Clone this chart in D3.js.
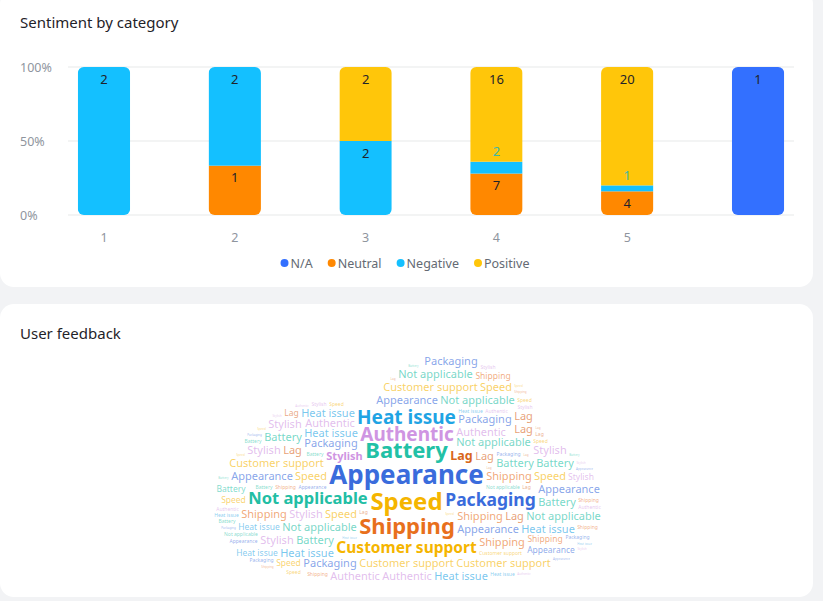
<!DOCTYPE html>
<html>
<head>
<meta charset="utf-8">
<script src="https://cdn.jsdelivr.net/npm/d3@7"></script>
<style>
  html, body { margin: 0; padding: 0; background: #f2f3f5; }
  svg { display: block; font-family: "Noto Sans", sans-serif; }
</style>
</head>
<body>
<svg id="page" width="823" height="601"></svg>
<script>
// ---- bar chart data ----
const categories = ["1", "2", "3", "4", "5", ""];
const sentiments = ["N/A", "Neutral", "Negative", "Positive"];
const naCounts = [0, 0, 0, 0, 0, 1];
const neutralCounts = [0, 1, 0, 7, 4, 0];
const negativeCounts = [2, 2, 2, 2, 1, 0];
const positiveCounts = [0, 0, 2, 16, 20, 0];
const sentimentColors = ["#3370ff", "#ff8800", "#14c0ff", "#ffc60a"];
const yTicks = [0, 0.5, 1];

// ---- word cloud data (lead words in placement order) ----
const cloudWords = ["Appearance", "Battery", "Speed", "Authentic", "Shipping", "Heat issue",
  "Packaging", "Customer support", "Not applicable", "Lag", "Stylish"];
const cloudColors = ["#3a6cdc", "#22c1a6", "#f5b500", "#cf95e2", "#e8701c", "#1fa4e4",
  "#3a6cdc", "#f5b500", "#22bea4", "#d8661a", "#cf95e2"];
const leadSizes = [26, 22, 24, 19, 22, 19, 17.5, 15.5, 16.5, 12.5, 11];
const mediumWords = ["Packaging", "Not applicable", "Speed", "Shipping", "Lag", "Appearance",
  "Heat issue", "Authentic", "Not applicable", "Customer support", "Appearance", "Customer support",
  "Shipping", "Authentic", "Speed", "Packaging", "Not applicable", "Customer support", "Heat issue",
  "Battery", "Stylish", "Battery", "Lag", "Not applicable", "Lag", "Shipping", "Appearance",
  "Customer support", "Authentic", "Battery", "Packaging", "Stylish", "Speed", "Heat issue", "Speed",
  "Authentic", "Heat issue", "Not applicable", "Lag", "Shipping", "Customer support", "Packaging",
  "Stylish", "Battery", "Heat issue", "Appearance", "Stylish", "Battery", "Stylish", "Lag"];
const smallWords = ["Heat issue", "Shipping", "Shipping", "Appearance", "Speed", "Heat issue",
  "Customer support", "Stylish", "Packaging", "Authentic", "Appearance", "Battery", "Lag", "Speed"];
const tinyWords = ["Not applicable", "Appearance", "Battery", "Packaging", "Speed", "Shipping",
  "Heat issue", "Customer support", "Lag", "Stylish", "Authentic", "Not applicable", "Battery",
  "Shipping", "Heat issue", "Appearance", "Customer support", "Packaging", "Stylish", "Speed",
  "Authentic", "Lag", "Battery", "Not applicable", "Shipping", "Heat issue", "Packaging",
  "Customer support", "Appearance", "Speed", "Stylish", "Authentic", "Lag", "Battery",
  "Not applicable", "Packaging", "Heat issue", "Shipping", "Customer support", "Speed"];
const dashWords = ["Speed", "Battery", "Lag", "Stylish", "Appearance", "Shipping", "Packaging",
  "Heat issue", "Authentic", "Customer support", "Not applicable", "Speed", "Lag", "Battery",
  "Stylish", "Shipping", "Appearance", "Packaging", "Authentic", "Heat issue", "Speed", "Lag",
  "Customer support", "Battery", "Stylish", "Shipping", "Not applicable", "Appearance", "Packaging",
  "Authentic", "Heat issue", "Speed", "Lag", "Battery", "Stylish", "Shipping"];

const FONT = '"Noto Sans", sans-serif';
const svg = d3.select("#page");

// ---- cards ----
svg.append("rect").attr("x", 0).attr("y", -10).attr("width", 813).attr("height", 297)
  .attr("rx", 14).attr("fill", "#fff");
svg.append("rect").attr("x", 0).attr("y", 304).attr("width", 813).attr("height", 293)
  .attr("rx", 14).attr("fill", "#fff");

svg.append("text").attr("x", 20).attr("y", 27.5).attr("font-size", 15).attr("fill", "#1f2329")
  .text("Sentiment by category");
svg.append("text").attr("x", 20).attr("y", 338.5).attr("font-size", 15).attr("fill", "#1f2329")
  .text("User feedback");

// ---- bar chart ----
const rows = categories.map((c, i) => ({
  cat: c,
  "N/A": naCounts[i], "Neutral": neutralCounts[i],
  "Negative": negativeCounts[i], "Positive": positiveCounts[i]
}));

const x = d3.scaleBand().domain(categories).range([68, 794]).paddingInner(0.6).paddingOuter(0.075);
const y = d3.scaleLinear().domain([0, 1]).range([215, 67]);
const color = d3.scaleOrdinal().domain(sentiments).range(sentimentColors);

const stacked = d3.stack().keys(sentiments).offset(d3.stackOffsetExpand)(rows);

const chart = svg.append("g");

chart.append("g").selectAll("line").data(yTicks).join("line")
  .attr("x1", 68).attr("x2", 794)
  .attr("y1", d => y(d)).attr("y2", d => y(d))
  .attr("stroke", "#eff0f1").attr("stroke-width", 1.5);

chart.append("g").selectAll("text").data(yTicks).join("text")
  .attr("x", 20).attr("y", d => y(d) + 4.5)
  .attr("font-size", 12.5).attr("fill", "#8f959e")
  .text(d => d3.format(".0%")(d));

const xAxis = chart.append("g").attr("transform", "translate(0,229)")
  .call(d3.axisBottom(x).tickSize(0).tickPadding(0));
xAxis.select(".domain").remove();
xAxis.selectAll("text").attr("font-size", 12.5).attr("fill", "#8f959e")
  .attr("font-family", FONT).attr("dy", "1.05em");

const defs = svg.append("defs");
categories.forEach((c, i) => {
  defs.append("clipPath").attr("id", "bar-clip-" + i)
    .append("rect").attr("x", x(c)).attr("y", y(1))
    .attr("width", x.bandwidth()).attr("height", y(0) - y(1)).attr("rx", 6);
});

const bars = chart.append("g");
stacked.forEach(layer => {
  bars.append("g").attr("fill", color(layer.key))
    .selectAll("rect").data(layer).join("rect")
    .attr("clip-path", (d, i) => `url(#bar-clip-${i})`)
    .attr("x", d => x(d.data.cat))
    .attr("y", d => y(d[1]))
    .attr("width", x.bandwidth())
    .attr("height", d => y(d[0]) - y(d[1]));
});

const labels = chart.append("g").attr("text-anchor", "middle").attr("font-size", 13);
stacked.forEach(layer => {
  layer.forEach(d => {
    const v = d.data[layer.key];
    if (!v) return;
    const top = y(d[1]);
    const h = y(d[0]) - y(d[1]);
    const inside = h >= 20;
    labels.append("text")
      .attr("x", x(d.data.cat) + x.bandwidth() / 2)
      .attr("y", inside ? top + 16.5 : top - 5.5)
      .attr("fill", inside ? "#1f2329" : "#3fb8a4")
      .text(v);
  });
});

// legend
const mctx = document.createElement("canvas").getContext("2d");
mctx.font = `12.5px ${FONT}`;
const legendItems = sentiments.map(s => ({ s, w: 10 + mctx.measureText(s).width }));
const legendGap = 15;
const legendW = d3.sum(legendItems, d => d.w) + legendGap * (legendItems.length - 1);
let lx = 405 - legendW / 2;
const legend = svg.append("g");
legendItems.forEach(it => {
  legend.append("circle").attr("cx", lx + 4).attr("cy", 263).attr("r", 4).attr("fill", color(it.s));
  legend.append("text").attr("x", lx + 10).attr("y", 267.5).attr("font-size", 12.5)
    .attr("fill", "#646a73").text(it.s);
  lx += it.w + legendGap;
});

// ---- word cloud ----
const colorOf = w => cloudColors[cloudWords.indexOf(w)];
const items = [];
cloudWords.forEach((w, i) => items.push({ text: w, size: leadSizes[i], weight: "bold", op: 1 }));
mediumWords.forEach(w => items.push({ text: w, size: 11, weight: "normal", op: 0.62 }));
smallWords.forEach(w => items.push({ text: w, size: 8.5, weight: "normal", op: 0.58 }));
tinyWords.forEach(w => items.push({ text: w, size: 5, weight: "normal", op: 0.55 }));
dashWords.forEach(w => items.push({ text: w, size: 3, weight: "normal", op: 0.5 }));

// cloud outline: wide squarish base plus a top lobe and a smaller left lobe
function insideCloud(px, py) {
  const bx = (px - 408) / 195, by = (py - 505) / 78;
  if (Math.abs(bx) ** 3 + Math.abs(by) ** 3 <= 1) return true;
  const tx = (px - 453) / 92, ty = (py - 437) / 85;
  if (tx * tx + ty * ty <= 1) return true;
  const lx2 = (px - 325) / 85, ly2 = (py - 452) / 52;
  return lx2 * lx2 + ly2 * ly2 <= 1;
}

const GX = 190, GY = 340, GW = 440, GH = 255;
const grid = new Uint8Array(GW * GH);
for (let j = 0; j < GH; j++) {
  for (let i = 0; i < GW; i++) {
    if (!insideCloud(GX + i + 0.5, GY + j + 0.5)) grid[j * GW + i] = 1;
  }
}
// summed-area table of occupied cells
const SW = GW + 1;
const sat = new Int32Array(SW * (GH + 1));
function buildSat() {
  for (let j = 0; j < GH; j++) {
    let rowSum = 0;
    for (let i = 0; i < GW; i++) {
      rowSum += grid[j * GW + i];
      sat[(j + 1) * SW + i + 1] = sat[j * SW + i + 1] + rowSum;
    }
  }
}
function occupied(x0, y0, w, h) {
  return sat[(y0 + h) * SW + x0 + w] - sat[y0 * SW + x0 + w]
    - sat[(y0 + h) * SW + x0] + sat[y0 * SW + x0];
}
buildSat();

// each word goes to the free spot nearest the centre (upward distances count a bit less)
const cx = 407 - GX, cy = 478 - GY, ratio = 1.4, upWeight = 0.92;
const placed = [];
items.forEach(d => {
  mctx.font = `${d.weight} ${d.size}px ${FONT}`;
  const m = mctx.measureText(d.text);
  const pad = 1;
  const w = Math.ceil(m.width) + pad * 2;
  const asc = m.actualBoundingBoxAscent, desc = m.actualBoundingBoxDescent;
  const h = Math.ceil(asc + desc) + pad * 2;
  let best = null, bestD = Infinity;
  for (let y0 = 0; y0 + h <= GH; y0++) {
    let dy = y0 + h / 2 - cy;
    if (dy < 0) dy *= upWeight;
    const dy2 = dy * dy;
    if (dy2 >= bestD) continue;
    for (let x0 = 0; x0 + w <= GW; x0++) {
      const dx = (x0 + w / 2 - cx) / ratio;
      const dist = dx * dx + dy2;
      if (dist >= bestD) continue;
      if (occupied(x0, y0, w, h) === 0) { bestD = dist; best = [x0, y0]; }
    }
  }
  if (!best) return;
  for (let j = best[1]; j < best[1] + h; j++) {
    for (let i = best[0]; i < best[0] + w; i++) grid[j * GW + i] = 1;
  }
  buildSat();
  placed.push({ ...d, x: GX + best[0] + w / 2, y: GY + best[1] + pad + asc });
});

svg.append("g").attr("text-anchor", "middle")
  .selectAll("text").data(placed).join("text")
  .attr("x", d => d.x).attr("y", d => d.y)
  .attr("font-size", d => d.size).attr("font-weight", d => d.weight)
  .attr("fill", d => colorOf(d.text)).attr("fill-opacity", d => d.op)
  .text(d => d.text);
</script>
</body>
</html>
